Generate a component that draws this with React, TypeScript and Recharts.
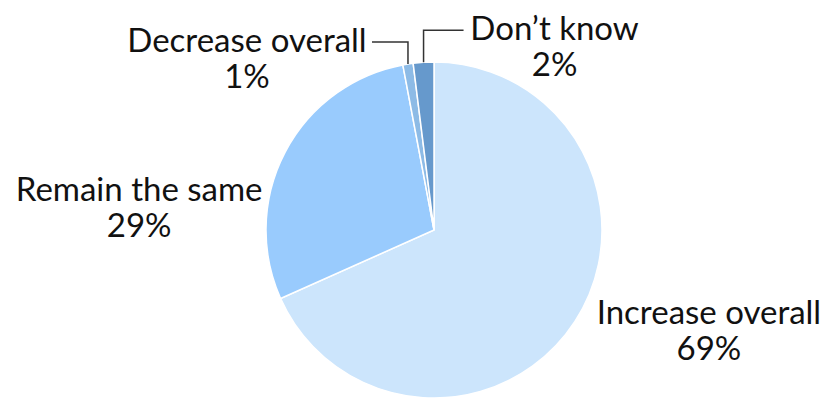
import React from 'react';
import { PieChart, Pie, Cell } from 'recharts';

const CATEGORIES = ['Increase overall', 'Remain the same', 'Decrease overall', "Don\u2019t know"];
const SHARES = [69, 29, 1, 2];
const COLORS = ['#cce5fc', '#99cbfd', '#8dbbe6', '#6699cc'];

// label placement relative to the slice's outer edge point
const LABEL_LAYOUT = [
  { dx: 134, dy: 3, leader: null },
  { dx: -146, dy: 49, leader: null },
  { dx: -161, dy: -12, leader: { up: -22, side: -36 } },
  { dx: 131, dy: -22, leader: { up: -32, side: 40 } },
];

const data = CATEGORIES.map((name, i) => ({ name, value: SHARES[i] }));

const RADIAN = Math.PI / 180;
const FONT = 'Lato, "Open Sans", sans-serif';

const renderLabel = (props: any) => {
  const { cx, cy, midAngle, outerRadius, index, name, value } = props;
  const px = cx + outerRadius * Math.cos(-midAngle * RADIAN);
  const py = cy + outerRadius * Math.sin(-midAngle * RADIAN);
  const lay = LABEL_LAYOUT[index];
  const tx = px + lay.dx;
  const ty = py + lay.dy;
  return (
    <g key={`lbl-${index}`}>
      {lay.leader && (
        <polyline
          points={`${px},${py} ${px},${py + lay.leader.up} ${px + lay.leader.side},${py + lay.leader.up}`}
          fill="none"
          stroke="#333"
          strokeWidth={1.5}
        />
      )}
      <text x={tx} y={ty} textAnchor="middle" fill="#111" fontSize={33} fontFamily={FONT}>
        <tspan x={tx}>{name}</tspan>
        <tspan x={tx} dy={36}>{`${value}%`}</tspan>
      </text>
    </g>
  );
};

export default function App() {
  return (
    <div style={{ position: 'absolute', left: 0, top: 0, background: '#fff' }}>
      <PieChart width={830} height={405} margin={{ top: 0, right: 0, bottom: 0, left: 0 }}>
        <Pie
          data={data}
          dataKey="value"
          nameKey="name"
          cx={434}
          cy={230}
          outerRadius={168}
          startAngle={90}
          endAngle={-270}
          stroke="#fff"
          strokeWidth={1.5}
          label={renderLabel}
          labelLine={false}
          isAnimationActive={false}
        >
          {data.map((d, i) => (
            <Cell key={d.name} fill={COLORS[i]} />
          ))}
        </Pie>
      </PieChart>
    </div>
  );
}
